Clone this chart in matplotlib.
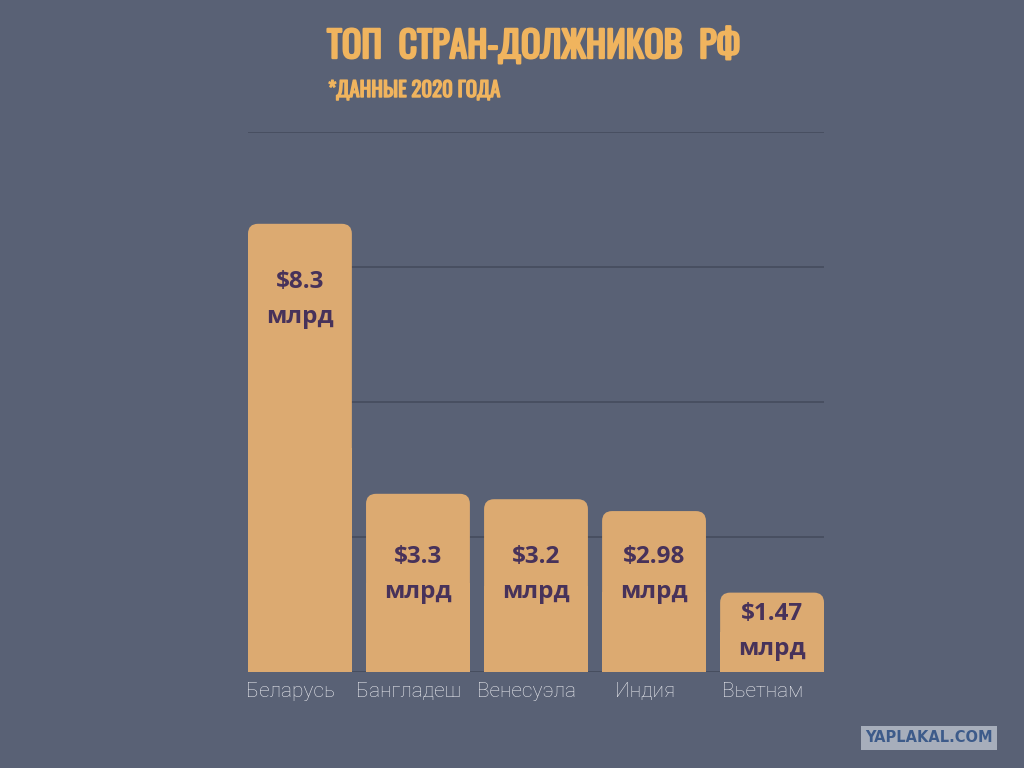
import matplotlib.pyplot as plt
import matplotlib.patheffects as pe
from matplotlib.patches import FancyBboxPatch, Rectangle

countries = ['Беларусь', 'Бангладеш', 'Венесуэла', 'Индия', 'Вьетнам']
debt = [8.3, 3.3, 3.2, 2.98, 1.47]
debt_labels = ['$8.3', '$3.3', '$3.2', '$2.98', '$1.47']

bg = '#596175'
bar_color = '#dcaa71'
text_dark = '#47325a'
title_color = '#f0b45e'
title_font = ['Oswald', 'DejaVu Sans']

fig = plt.figure(figsize=(10.24, 7.68), dpi=100)
fig.patch.set_facecolor(bg)
ax = fig.add_axes([248 / 1024, 96 / 768, 576 / 1024, 540 / 768])
ax.set_facecolor(bg)
ax.set_xlim(-0.44, len(countries) - 1 + 0.44)
ax.set_ylim(0, 10)

# grid lines
for g in [2.5, 5, 7.5, 10]:
    ax.axhline(g, color='#454c5d', lw=1.2, zorder=0)
ax.axhline(0, color='#454c5d', lw=2, zorder=0)

w = 0.88
rx = 0.085
ry = 0.185
for i, v in enumerate(debt):
    p = FancyBboxPatch((i - w / 2, 0), w, v,
                       boxstyle='round,pad=0,rounding_size=%f' % rx,
                       mutation_aspect=ry / rx, fc=bar_color, ec='none', zorder=2)
    ax.add_patch(p)
    ax.add_patch(Rectangle((i - w / 2, 0), w, v / 2, fc=bar_color, ec='none', zorder=2))

    # label position: near top for tall/short bars, fixed height for mid ones
    if v > 5:
        y1 = v - 1.07
    elif v > 2:
        y1 = 2.13
    else:
        y1 = v - 0.4
    ax.text(i, y1, debt_labels[i], ha='center', va='center', fontsize=17.5,
            fontweight='bold', color=text_dark, family='Open Sans', zorder=3)
    ax.text(i, y1 - 0.65, 'млрд', ha='center', va='center', fontsize=17.5,
            fontweight='bold', color=text_dark, family='Open Sans', zorder=3)
    ax.text(i - 0.08, -0.36, countries[i], ha='center', va='center', fontsize=15,
            color='#e8e9ee', family='Roboto', fontweight='light')

for s in ax.spines.values():
    s.set_visible(False)
ax.set_xticks([])
ax.set_yticks([])

# thicken the condensed title font
bold = [pe.withStroke(linewidth=1.6, foreground=title_color)]
fig.text(327 / 1024, 1 - 47 / 768, 'ТОП  СТРАН-ДОЛЖНИКОВ  РФ', ha='left', va='center',
         fontsize=26, fontweight='bold', color=title_color, family=title_font,
         path_effects=bold)
fig.text(328 / 1024, 1 - 90 / 768, '*ДАННЫЕ 2020 ГОДА', ha='left', va='center',
         fontsize=15, fontweight='bold', color=title_color, family=title_font,
         path_effects=[pe.withStroke(linewidth=1.0, foreground=title_color)])

fig.text(929 / 1024, 1 - 738 / 768, 'YAPLAKAL.COM', ha='center', va='center',
         fontsize=10.5, fontweight='heavy', color='#3d5b8a', family='DejaVu Sans',
         bbox=dict(boxstyle='square,pad=0.3', fc='#a7aebb', ec='none'))

fig.savefig('out.png', dpi=100, facecolor=bg)
